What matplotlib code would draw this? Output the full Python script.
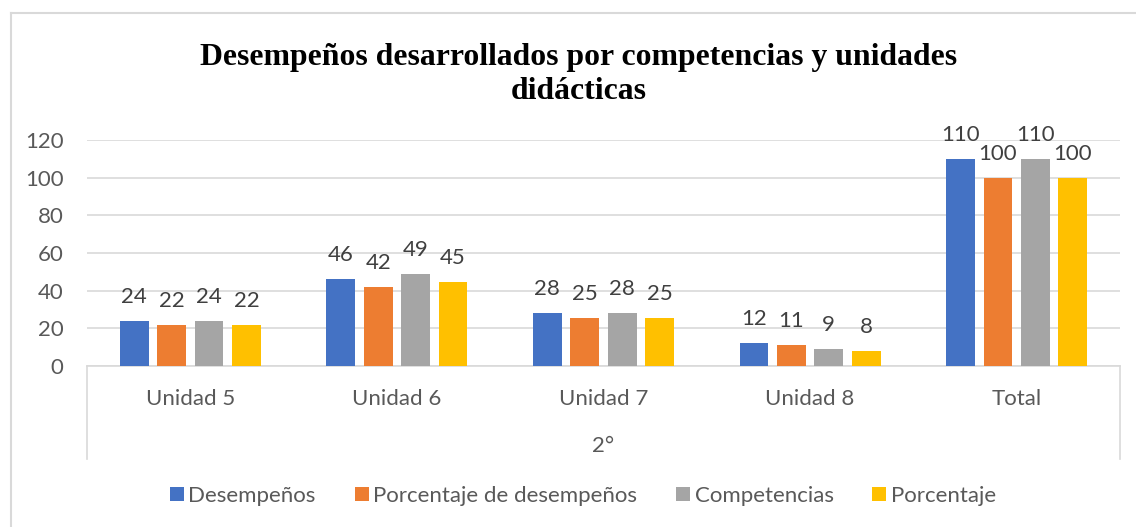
import matplotlib
matplotlib.use("Agg")
import matplotlib.pyplot as plt
from matplotlib.patches import Patch
from matplotlib.lines import Line2D
import numpy as np

categories = ["Unidad 5", "Unidad 6", "Unidad 7", "Unidad 8", "Total"]
group_label = "2°"
series_names = ["Desempeños", "Porcentaje de desempeños", "Competencias", "Porcentaje"]
desempenos = [24, 46, 28, 12, 110]
porc_desempenos = [21.8, 41.8, 25.45, 10.9, 100]
competencias = [24, 49, 28, 9, 110]
porcentaje = [21.8, 44.55, 25.45, 8.2, 100]
yticks = [0, 20, 40, 60, 80, 100, 120]
title = "Desempeños desarrollados por competencias y unidades\ndidácticas"

series = [desempenos, porc_desempenos, competencias, porcentaje]
colors = ["#4472C4", "#ED7D31", "#A5A5A5", "#FFC000"]

W, H = 1136, 527
fig = plt.figure(figsize=(W / 100, H / 100), dpi=100)
ax = fig.add_axes([87 / W, 1 - 366 / H, (1120 - 87) / W, (366 - 140) / H])

tick_font = "Lato"
tick_size = 16
label_color = "#595959"

x = np.arange(len(categories))
step = 0.181
width = 0.14
for j, (vals, col) in enumerate(zip(series, colors)):
    pos = x + (j - 1.5) * step
    ax.bar(pos, vals, width=width, color=col, zorder=3)
    for xi, v in zip(pos, vals):
        ax.annotate(f"{v:.0f}", (xi, v), xytext=(0, 18), textcoords="offset pixels",
                    ha="center", va="baseline", fontsize=tick_size, family=tick_font,
                    color="#404040")

ax.set_xlim(-0.5, len(categories) - 0.5)
ax.set_ylim(0, 120)
ax.set_yticks(yticks)
ax.set_yticklabels([str(t) for t in yticks], family=tick_font, fontsize=tick_size, color=label_color)
ax.tick_params(axis="y", length=0, pad=17)
ax.set_xticks([])
ax.yaxis.grid(True, color="#D9D9D9", linewidth=1.2, zorder=0)
for s in ["left", "right", "top"]:
    ax.spines[s].set_visible(False)
ax.spines["bottom"].set_color("#D9D9D9")
ax.spines["bottom"].set_linewidth(1.2)

# multi-level category axis
for i, c in enumerate(categories):
    ax.text(i, -(399 - 366) / 226, c, transform=ax.get_xaxis_transform(), ha="center", va="center",
            family=tick_font, fontsize=tick_size, color=label_color)
ax.text(0.5, -(446 - 366) / 226, group_label, transform=ax.transAxes, ha="center", va="center",
        family=tick_font, fontsize=tick_size, color=label_color)
for xa in (0, 1):
    ax.add_line(Line2D([xa, xa], [0, -(459 - 366) / 226], transform=ax.transAxes,
                       color="#D9D9D9", linewidth=1.2, clip_on=False))

# title
fig.text(579 / W, 1 - 74.6 / H, title, ha="center", va="center", family="Liberation Serif",
         fontweight="bold", fontsize=22.9, color="black", linespacing=1.22)

# legend
handles = [Patch(facecolor=c, edgecolor="none", label=n) for c, n in zip(colors, series_names)]
leg = fig.legend(handles=handles, loc="center", bbox_to_anchor=(583 / W, 1 - 496 / H), ncol=4,
                 frameon=False, handlelength=0.63, handleheight=0.63, handletextpad=0.2,
                 columnspacing=1.75, borderpad=0, borderaxespad=0,
                 prop={"family": tick_font, "size": tick_size})
for t in leg.get_texts():
    t.set_color(label_color)

# chart border
fig.add_artist(Line2D([11 / W, 11 / W], [0, 1 - 13 / H], transform=fig.transFigure, color="#D9D9D9", linewidth=1.5))
fig.add_artist(Line2D([11 / W, 1], [1 - 13 / H, 1 - 13 / H], transform=fig.transFigure, color="#D9D9D9", linewidth=1.5))

fig.savefig("out.png", dpi=100)
